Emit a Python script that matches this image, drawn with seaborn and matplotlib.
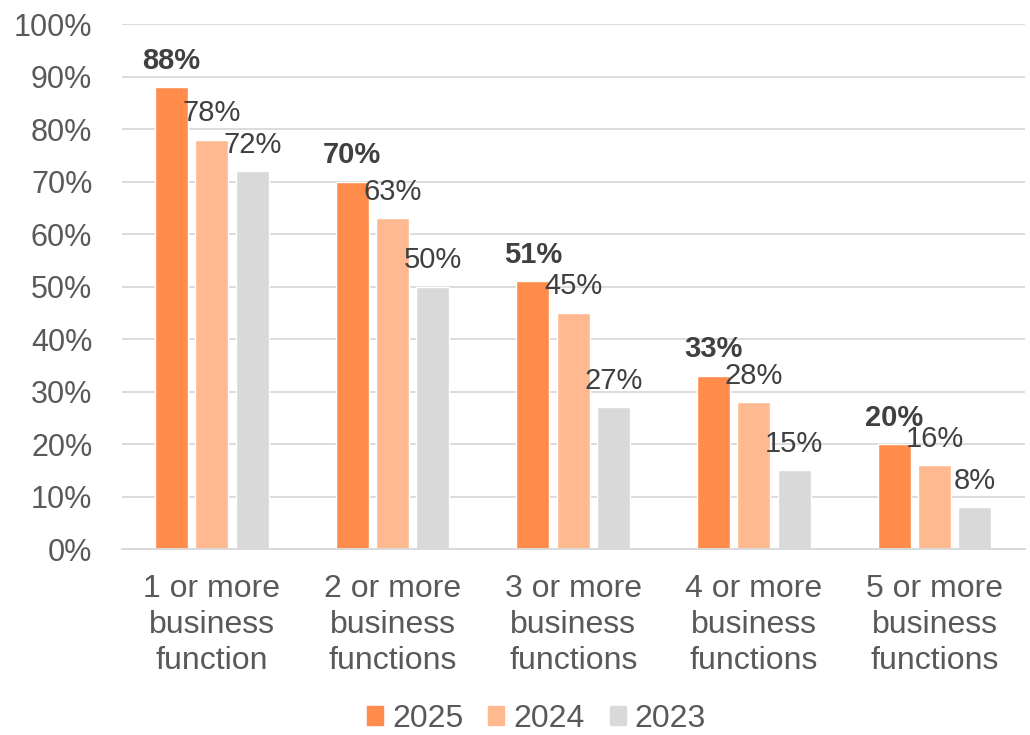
import matplotlib
matplotlib.use("Agg")
import matplotlib.pyplot as plt
import seaborn as sns
import pandas as pd

categories = ["1 or more\nbusiness\nfunction", "2 or more\nbusiness\nfunctions",
              "3 or more\nbusiness\nfunctions", "4 or more\nbusiness\nfunctions",
              "5 or more\nbusiness\nfunctions"]
years = ["2025", "2024", "2023"]
v2025 = [88, 70, 51, 33, 20]
v2024 = [78, 63, 45, 28, 16]
v2023 = [72, 50, 27, 15, 8]
yticks = [0, 10, 20, 30, 40, 50, 60, 70, 80, 90, 100]
colors = ["#FF8C4B", "#FFB991", "#D9D9D9"]

rows = []
for y, vals in zip(years, [v2025, v2024, v2023]):
    for c, v in zip(categories, vals):
        rows.append({"cat": c, "year": y, "val": v})
df = pd.DataFrame(rows)

sns.set_style("white")
plt.rcParams["font.family"] = ["Liberation Sans", "DejaVu Sans"]

fig = plt.figure(figsize=(10.3, 7.35), dpi=100)
ax = fig.add_axes([0.118, 0.253, 0.877, 0.714])

sns.barplot(data=df, x="cat", y="val", hue="year", hue_order=years,
            order=categories, palette=colors, width=0.67, gap=0.18,
            saturation=1, ax=ax, legend=True)

for i, cont in enumerate(ax.containers):
    ax.bar_label(cont, labels=[f"{int(v)}%" for v in cont.datavalues],
                 padding=9, fontsize=21, color="#404040",
                 fontweight="bold" if i == 0 else "normal")

ax.set_ylim(0, 100)
ax.set_yticks(yticks)
ax.set_yticklabels([f"{t}%" for t in yticks])
ax.set_xlim(-0.5, len(categories) - 0.5)
ax.yaxis.grid(True, color="#D9D9D9", linewidth=1.3)
ax.set_axisbelow(True)
for s in ["top", "right", "left"]:
    ax.spines[s].set_visible(False)
ax.spines["bottom"].set_color("#D9D9D9")
ax.spines["bottom"].set_linewidth(1.3)
ax.tick_params(axis="y", labelsize=22, labelcolor="#595959", length=0, pad=21)
ax.tick_params(axis="x", labelsize=23, labelcolor="#595959", length=0, pad=18)
for lbl in ax.get_xticklabels():
    lbl.set_linespacing(1.27)
ax.set_xlabel("")
ax.set_ylabel("")

ax.get_legend().remove()
handles = [plt.Rectangle((0, 0), 1, 1, color=c) for c in colors]
fig.legend(handles, years, loc="center", bbox_to_anchor=(0.521, 0.022), ncol=3,
           frameon=False, fontsize=23, handlelength=0.5, handleheight=0.5,
           handletextpad=0.28, columnspacing=0.78, labelcolor="#595959")

fig.savefig("out.png", dpi=100)
